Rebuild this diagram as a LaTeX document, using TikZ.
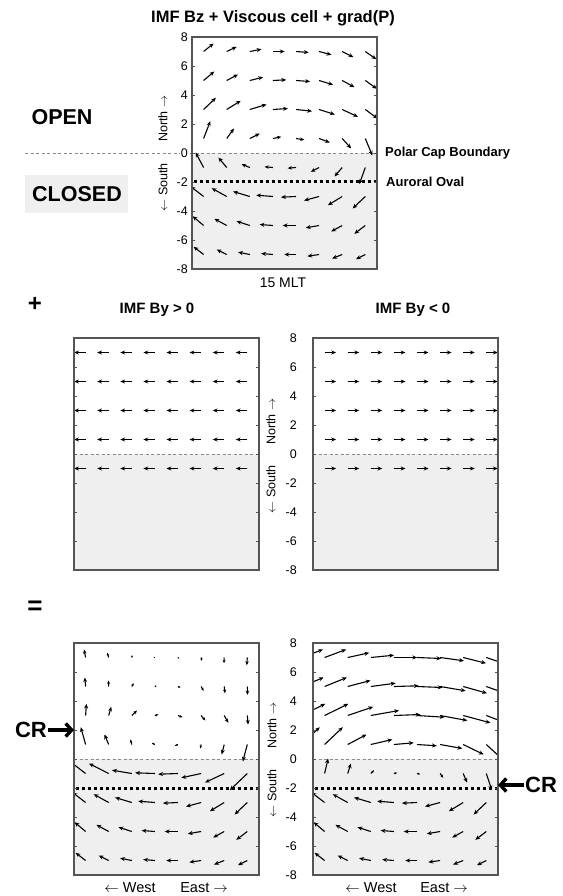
\documentclass[tikz,border=0pt]{standalone}
\usepackage{fontspec}
\setmainfont{Liberation Sans}
\usetikzlibrary{arrows.meta}
\definecolor{shadecol}{HTML}{EFEFEF}
\definecolor{framecol}{HTML}{555555}
\definecolor{dashcol}{HTML}{8A8A8A}
\newcommand\fsz[1]{\fontsize{#1}{#1}\selectfont}
% base field (IMF Bz + viscous + grad P), rows y=7,5,3,1,-1,-3,-5,-7 ; px, dy upward
\def\Ulist{{10,10,11.7,11.7,12.7,12.3,11.3,11,
10.7,11.3,13.3,13.3,14,14,12.3,11.7,
12.3,14,16.7,15,16,15.7,15.7,12.3,
6.7,7.3,10,8.3,8.3,10.7,9,7,
-8,-8.3,-8.3,-8.3,-8.3,-8.3,-7.7,-6,
-13,-15,-16.7,-16.7,-15,-15,-14.3,-12.7,
-11,-12.3,-13.3,-13.3,-13.3,-13.3,-11,-11,
-10,-10,-11.7,-11.7,-11.7,-11.7,-10,-9.3}}
\def\Vlist{{8,4.7,2.3,0,-1,-3.3,-5.7,-7.7,
9,6,3.3,0.7,-1,-4.3,-6.7,-8.3,
11.7,8.7,5,1,-1.7,-5,-7.3,-9,
17.3,10,5,1.7,-1.3,-4,-10,-17,
15,10,3.3,0.7,-0.7,-4.3,-9,-16.7,
10,8.3,5,1.3,-0.7,-4,-8.7,-12,
9.3,6.7,4.3,1,0,-2.3,-6,-8.3,
7.7,5,2.3,1,0,-1.7,-4,-4.7}}
% #1 left, #2 zero line y, #3 By added to rows 7..-1
\newcommand\vfield[3]{%
\begin{scope}
\clip (#1,#2-116) rectangle ++(185,232);
\foreach \ri in {0,...,7}{
 \foreach \ci in {-1,...,7}{
  \pgfmathtruncatemacro\cc{max(\ci,0)}
  \pgfmathtruncatemacro\ii{\ri*8+\cc}
  \pgfmathsetmacro\dx{\Ulist[\ii]+(\ri<5)*(#3)}
  \pgfmathsetmacro\dy{\Vlist[\ii]}
  \pgfmathsetmacro\vl{veclen(\dx,\dy)}
  \pgfmathsetmacro\hl{min(4.8,1.3+0.35*\vl)}
  \pgfmathsetmacro\hw{0.85*\hl}
  \pgfmathsetmacro\gx{#1+11.6+23.1*\ci}
  \pgfmathsetmacro\gy{#2-14.5*(7-2*\ri)}
  \draw[line width=1.1pt,-{Stealth[length=\hl pt,width=\hw pt]}] (\gx,\gy) -- ++(\dx,-\dy);
 }}
\end{scope}}
\newcommand\byfield[3]{%
\foreach \ri in {0,...,4}{\foreach \ci in {0,...,7}{
 \pgfmathsetmacro\gx{#1+11.6+23.1*\ci}
 \pgfmathsetmacro\gy{#2-14.5*(7-2*\ri)}
 \draw[vec] (\gx,\gy) -- ++(#3,0);}}}
\newcommand\shadebox[2]{%
 \fill[shadecol] (#1,#2) rectangle ++(185,116);
 \draw[pcb] (#1,#2) -- ++(185,0);}
\newcommand\frameticks[2]{%
 \draw[frm] (#1,#2-116) rectangle ++(185,232);
 \foreach \tk in {-6,-4,...,6}{
   \draw[framecol,line width=0.8pt] (#1,#2-14.5*\tk) -- ++(3,0);
   \draw[framecol,line width=0.8pt] (#1+185,#2-14.5*\tk) -- ++(-3,0);}}
\newcommand\ylabels[2]{%
 \foreach \tk in {8,6,...,-8}{
   \node[lbl,anchor=east] at (#1,#2-14.5*\tk) {\tk};}}
\begin{document}
\begin{tikzpicture}[x=1pt,y=-1pt,
  vec/.style={line width=1.1pt,-{Stealth[length=4.8pt,width=4pt]}},
  frm/.style={draw=framecol,line width=1.2pt},
  pcb/.style={dashcol,line width=0.7pt,dash pattern=on 3pt off 2.5pt},
  aur/.style={black,line width=3pt,dash pattern=on 3pt off 3pt},
  lbl/.style={inner sep=1pt,font=\fsz{12.5}},
  bold/.style={inner sep=0pt,font=\fsz{#1}\bfseries},
  cr/.style={line width=3.4pt,-{Straight Barb[length=6pt,width=13pt]}}]
\useasboundingbox (0,0) rectangle (562,896);
% ---------- top panel ----------
\node[bold=16.5] (title) at (273,18) {IMF Bz + Viscous cell + grad(P)};
\fill[shadecol] (192,153) rectangle ++(185,116);
\fill[shadecol] (25,175) rectangle (128,213);
\draw[pcb] (25,153) -- (377,153);
\vfield{192}{153}{0}
\draw[aur] (193.5,182) -- (377,182);
\frameticks{192}{153}
\ylabels{189}{153}
\node[lbl,fill=white,anchor=east] at (189,153) {0};
\node[lbl,rotate=90,anchor=west] (n1) at (163,143) {North $\rightarrow$};
\node[lbl,rotate=90,anchor=east] (s1) at (163,162) {$\leftarrow$ South};
\node[bold=21.5] (open) at (62,117) {OPEN};
\node[bold=21.5] (closed) at (77,194) {CLOSED};
\node[bold=13,anchor=west] (pcbl) at (385,153) {Polar Cap Boundary};
\node[bold=13,anchor=west] (aol) at (386,182) {Auroral Oval};
\node[inner sep=0pt,font=\fsz{14}] (mlt) at (283,283) {15 MLT};
% ---------- middle panels ----------
\node[bold=24] (plus) at (35,304) {+};
\node[bold=15] (t2) at (157,310) {IMF By > 0};
\node[bold=15] (t3) at (413,310) {IMF By < 0};
\shadebox{74}{454}
\shadebox{313}{454}
\byfield{74}{454}{-11.5}
\byfield{313}{454}{11.5}
\frameticks{74}{454}
\frameticks{313}{454}
\ylabels{298}{454}
\node[lbl,rotate=90,anchor=west] (n2) at (271,446) {North $\rightarrow$};
\node[lbl,rotate=90,anchor=east] (s2) at (271,464) {$\leftarrow$ South};
% ---------- bottom panels ----------
\node[bold=26] (eq) at (35,608) {=};
\shadebox{74}{759}
\shadebox{313}{759}
\vfield{74}{759}{-11.5}
\vfield{313}{759}{11.5}
\draw[aur] (75.5,788) -- (259,788);
\draw[aur] (314.5,788) -- (498,788);
\frameticks{74}{759}
\frameticks{313}{759}
\ylabels{298}{759}
\node[lbl,rotate=90,anchor=west] (n3) at (272,750) {North $\rightarrow$};
\node[lbl,rotate=90,anchor=east] (s3) at (272,768) {$\leftarrow$ South};
\coordinate (crL) at (74,730);
\coordinate (crR) at (498,785);
\node[bold=22,anchor=east] (crl) at (47,730) {CR};
\node[bold=22,anchor=west] (crr) at (525,785) {CR};
\draw[cr] (crl.east) ++(1,0) -- (crL);
\draw[cr] (crr.west) ++(-1,0) -- (crR);
\node[inner sep=0pt,font=\fsz{14.5}] (w1) at (130,888) {$\leftarrow$ West};
\node[inner sep=0pt,font=\fsz{14.5}] (e1) at (204,888) {East $\rightarrow$};
\node[inner sep=0pt,font=\fsz{14.5}] (w2) at (371,888) {$\leftarrow$ West};
\node[inner sep=0pt,font=\fsz{14.5}] (e2) at (444,888) {East $\rightarrow$};
\end{tikzpicture}
\end{document}
